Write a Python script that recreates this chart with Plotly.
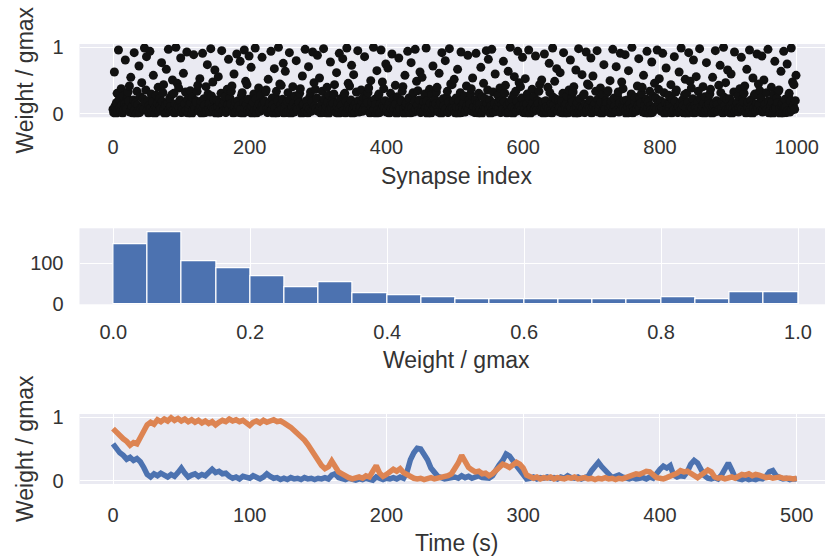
import plotly.graph_objects as go

# ---------------- data ----------------
# Top panel: weight of each of the 1000 synapses, in percent of gmax
weight_percent = [
    7, 2, 63, 12, 0, 17, 31, 5, 96, 22, 9, 4, 38, 14, 1, 27, 6, 15, 81, 10, 8, 24, 33, 19, 42,
    3, 55, 8, 11, 1, 21, 92, 6, 16, 0, 34, 13, 5, 72, 2, 26, 9, 47, 10, 23, 7, 99, 18, 36, 86,
    5, 20, 1, 13, 94, 9, 30, 3, 18, 58, 6, 0, 10, 28, 7, 16, 40, 4, 23, 12, 8, 77, 19, 32, 44,
    8, 0, 14, 67, 2, 17, 97, 6, 24, 11, 4, 29, 51, 5, 31, 1, 15, 100, 7, 46, 12, 39, 9, 21, 84,
    2, 10, 7, 61, 3, 15, 33, 5, 93, 22, 1, 9, 14, 35, 17, 0, 25, 6, 89, 11, 8, 20, 18, 34, 43,
    6, 4, 53, 12, 19, 0, 91, 9, 23, 13, 2, 41, 5, 74, 30, 8, 16, 3, 98, 27, 10, 48, 7, 21, 66,
    9, 0, 21, 11, 56, 1, 16, 7, 31, 95, 4, 13, 5, 19, 26, 2, 6, 37, 14, 82, 8, 24, 15, 34, 42,
    5, 1, 60, 10, 18, 3, 90, 8, 20, 12, 2, 79, 7, 28, 32, 0, 17, 96, 9, 49, 14, 44, 6, 22, 87,
    3, 6, 70, 12, 0, 17, 30, 5, 99, 23, 1, 8, 10, 39, 15, 4, 29, 9, 85, 13, 7, 20, 18, 33, 36,
    7, 2, 52, 11, 16, 4, 94, 6, 24, 14, 0, 68, 9, 25, 34, 1, 19, 100, 5, 45, 13, 43, 8, 22, 76,
    1, 8, 64, 14, 2, 19, 32, 5, 92, 21, 0, 6, 11, 41, 16, 3, 27, 9, 80, 10, 7, 23, 17, 31, 38,
    9, 0, 57, 13, 15, 3, 97, 5, 20, 10, 1, 71, 7, 26, 33, 4, 18, 93, 6, 47, 12, 37, 8, 24, 88,
    4, 5, 54, 10, 1, 15, 34, 7, 98, 22, 2, 8, 12, 40, 18, 0, 28, 6, 78, 14, 9, 21, 16, 30, 44,
    6, 2, 62, 11, 17, 0, 91, 8, 23, 13, 3, 83, 5, 29, 31, 1, 19, 99, 9, 46, 14, 42, 7, 21, 73,
    0, 7, 59, 12, 2, 16, 33, 9, 95, 20, 3, 5, 11, 36, 19, 4, 25, 8, 86, 13, 6, 24, 17, 32, 39,
    5, 1, 50, 10, 18, 4, 100, 7, 22, 14, 0, 65, 6, 27, 30, 2, 15, 96, 8, 48, 12, 38, 9, 20, 75,
    3, 6, 69, 13, 1, 17, 31, 8, 90, 23, 4, 9, 14, 43, 15, 0, 26, 5, 84, 10, 7, 21, 19, 34, 41,
    8, 0, 58, 12, 16, 2, 94, 6, 24, 11, 1, 77, 9, 28, 32, 3, 19, 97, 7, 49, 13, 35, 5, 21, 63,
    2, 5, 55, 11, 4, 18, 30, 9, 99, 20, 0, 7, 10, 37, 16, 1, 29, 6, 72, 14, 8, 22, 15, 33, 40,
    7, 3, 61, 14, 17, 0, 92, 5, 23, 12, 4, 80, 8, 25, 34, 2, 18, 98, 6, 45, 10, 44, 9, 20, 52,
    6, 1, 24, 10, 67, 0, 19, 9, 32, 93, 2, 13, 8, 17, 27, 3, 5, 42, 12, 88, 7, 22, 15, 30, 38,
    4, 54, 9, 11, 2, 21, 91, 7, 15, 1, 31, 14, 6, 70, 0, 26, 5, 46, 10, 23, 8, 95, 16, 36, 82,
    8, 21, 0, 12, 97, 6, 33, 3, 16, 60, 5, 4, 11, 28, 9, 18, 39, 2, 20, 14, 7, 79, 19, 31, 43,
    5, 1, 13, 64, 3, 17, 100, 8, 22, 10, 0, 29, 56, 7, 34, 4, 19, 94, 9, 47, 12, 41, 6, 24, 85,
    2, 14, 7, 53, 1, 15, 30, 5, 96, 23, 0, 9, 10, 37, 17, 4, 26, 8, 87, 11, 6, 20, 16, 34, 44,
    6, 3, 51, 12, 18, 0, 90, 9, 20, 11, 2, 40, 8, 76, 32, 5, 16, 1, 99, 25, 14, 49, 7, 22, 68,
    5, 4, 21, 10, 62, 2, 19, 6, 31, 92, 0, 13, 8, 15, 27, 1, 7, 36, 12, 81, 9, 24, 18, 33, 41,
    7, 0, 66, 11, 17, 1, 98, 5, 23, 10, 3, 59, 9, 28, 30, 2, 15, 93, 6, 45, 13, 43, 8, 21, 84,
    1, 9, 57, 12, 4, 16, 34, 6, 95, 22, 3, 7, 14, 39, 18, 0, 29, 5, 74, 10, 8, 20, 17, 32, 35,
    8, 2, 50, 13, 19, 0, 97, 7, 24, 12, 4, 71, 5, 26, 33, 3, 16, 91, 6, 48, 11, 38, 9, 20, 89,
    6, 0, 21, 11, 65, 2, 15, 8, 30, 100, 1, 10, 5, 19, 25, 4, 7, 42, 13, 83, 9, 23, 16, 31, 40,
    3, 58, 5, 14, 1, 22, 94, 9, 18, 0, 34, 12, 6, 78, 2, 27, 8, 46, 10, 24, 7, 96, 17, 37, 53,
    7, 20, 4, 10, 91, 5, 32, 0, 17, 69, 8, 3, 14, 28, 9, 15, 44, 1, 22, 12, 6, 86, 19, 33, 36,
    6, 2, 11, 63, 4, 16, 99, 7, 21, 13, 1, 29, 52, 9, 31, 0, 18, 92, 5, 49, 10, 39, 8, 23, 81,
    1, 13, 8, 56, 3, 18, 34, 9, 98, 24, 2, 6, 11, 41, 16, 0, 26, 5, 77, 12, 7, 21, 15, 30, 37,
    9, 0, 55, 10, 15, 3, 95, 5, 20, 14, 4, 43, 7, 73, 32, 8, 19, 1, 100, 25, 13, 47, 6, 22, 66,
    5, 2, 23, 12, 60, 0, 16, 8, 33, 93, 4, 10, 6, 17, 27, 3, 9, 38, 11, 85, 7, 22, 19, 31, 42,
    7, 1, 67, 11, 18, 2, 96, 6, 21, 12, 0, 54, 9, 28, 30, 4, 15, 90, 8, 45, 14, 35, 5, 24, 87,
    3, 6, 51, 14, 4, 15, 32, 7, 97, 20, 1, 5, 13, 40, 18, 0, 29, 8, 79, 10, 9, 24, 17, 34, 36,
    8, 0, 64, 12, 16, 1, 94, 9, 22, 10, 2, 75, 5, 26, 31, 3, 19, 99, 6, 48, 13, 44, 7, 20, 58,
]
synapse_index = list(range(len(weight_percent)))
synapse_weight = [v / 100 for v in weight_percent]

# Middle panel: histogram counts in 20 bins of width 0.05 on [0, 1]
bin_width = 0.05
bin_left = [i * bin_width for i in range(20)]
bin_counts = [146, 175, 105, 87, 67, 42, 53, 27, 23, 18,
              13, 13, 13, 13, 13, 13, 18, 13, 28, 28]

# Bottom panel: two example synapse weights over time (sampled every 2.5 s)
time_s = [i * 2.5 for i in range(201)]
weight_syn_a = [
    0.58, 0.49, 0.44, 0.40, 0.34, 0.37, 0.32, 0.35, 0.30, 0.21,
    0.10, 0.06, 0.11, 0.08, 0.12, 0.09, 0.06, 0.10, 0.07, 0.13,
    0.20, 0.12, 0.06, 0.09, 0.11, 0.07, 0.10, 0.08, 0.14, 0.18,
    0.13, 0.15, 0.11, 0.12, 0.07, 0.04, 0.06, 0.03, 0.07, 0.05,
    0.04, 0.08, 0.06, 0.03, 0.06, 0.11, 0.07, 0.04, 0.05, 0.02,
    0.04, 0.02, 0.05, 0.03, 0.04, 0.02, 0.05, 0.03, 0.04, 0.02,
    0.04, 0.03, 0.05, 0.03, 0.09, 0.11, 0.05, 0.03, 0.02, 0.04,
    0.02, 0.01, 0.03, 0.02, 0.04, 0.02, 0.01, 0.06, 0.03, 0.02,
    0.04, 0.03, 0.05, 0.03, 0.06, 0.04, 0.14, 0.33, 0.44, 0.51,
    0.50, 0.42, 0.33, 0.20, 0.12, 0.07, 0.05, 0.03, 0.04, 0.05,
    0.06, 0.04, 0.08, 0.05, 0.07, 0.04, 0.06, 0.08, 0.05, 0.04,
    0.04, 0.08, 0.18, 0.25, 0.32, 0.42, 0.39, 0.33, 0.24, 0.17,
    0.11, 0.03, 0.04, 0.06, 0.03, 0.05, 0.04, 0.06, 0.04, 0.05,
    0.03, 0.06, 0.04, 0.08, 0.05, 0.04, 0.06, 0.03, 0.05, 0.07,
    0.16, 0.24, 0.29, 0.22, 0.16, 0.08, 0.05, 0.07, 0.09, 0.06,
    0.04, 0.03, 0.05, 0.03, 0.04, 0.05, 0.03, 0.06, 0.04, 0.12,
    0.18, 0.23, 0.20, 0.24, 0.09, 0.06, 0.08, 0.07, 0.14, 0.26,
    0.32, 0.28, 0.17, 0.08, 0.04, 0.03, 0.05, 0.03, 0.09, 0.20,
    0.28, 0.17, 0.05, 0.03, 0.02, 0.04, 0.02, 0.03, 0.02, 0.04,
    0.03, 0.07, 0.14, 0.16, 0.08, 0.05, 0.03, 0.04, 0.02, 0.03,
    0.03,
]
weight_syn_b = [
    0.82, 0.76, 0.72, 0.66, 0.62, 0.56, 0.60, 0.58, 0.68, 0.80,
    0.88, 0.92, 0.89, 0.96, 0.93, 0.97, 0.94, 0.99, 0.95, 0.98,
    0.94, 0.97, 0.93, 0.96, 0.92, 0.95, 0.91, 0.94, 0.90, 0.93,
    0.88, 0.92, 0.95, 0.93, 0.97, 0.94, 0.96, 0.93, 0.95, 0.91,
    0.87, 0.92, 0.94, 0.91, 0.95, 0.92, 0.94, 0.96, 0.93, 0.94,
    0.91, 0.88, 0.84, 0.79, 0.74, 0.70, 0.64, 0.57, 0.48, 0.40,
    0.30, 0.24, 0.19, 0.22, 0.31, 0.22, 0.14, 0.11, 0.07, 0.05,
    0.03, 0.04, 0.06, 0.04, 0.08, 0.06, 0.14, 0.24, 0.12, 0.07,
    0.10, 0.14, 0.18, 0.15, 0.19, 0.13, 0.10, 0.06, 0.04, 0.03,
    0.04, 0.02, 0.03, 0.05, 0.03, 0.04, 0.06, 0.05, 0.08, 0.11,
    0.18, 0.28, 0.40, 0.30, 0.21, 0.17, 0.14, 0.15, 0.11, 0.12,
    0.08, 0.11, 0.17, 0.22, 0.26, 0.24, 0.21, 0.25, 0.29, 0.26,
    0.20, 0.09, 0.06, 0.04, 0.06, 0.03, 0.05, 0.04, 0.06, 0.03,
    0.05, 0.04, 0.03, 0.05, 0.04, 0.06, 0.03, 0.04, 0.05, 0.03,
    0.04, 0.02, 0.04, 0.03, 0.05, 0.03, 0.04, 0.02, 0.04, 0.03,
    0.05, 0.06, 0.09, 0.11, 0.10, 0.13, 0.15, 0.14, 0.08, 0.05,
    0.04, 0.03, 0.05, 0.07, 0.09, 0.12, 0.16, 0.14, 0.15, 0.12,
    0.08, 0.05, 0.09, 0.12, 0.17, 0.14, 0.06, 0.04, 0.05, 0.03,
    0.05, 0.06, 0.04, 0.08, 0.10, 0.09, 0.11, 0.08, 0.10, 0.09,
    0.07, 0.05, 0.06, 0.04, 0.05, 0.06, 0.04, 0.05, 0.04, 0.03,
    0.04,
]

synapse_ticks = [0, 200, 400, 600, 800, 1000]
hist_xticks = [0.0, 0.2, 0.4, 0.6, 0.8, 1.0]
hist_xtick_text = ["0.0", "0.2", "0.4", "0.6", "0.8", "1.0"]
hist_yticks = [0, 100]
time_ticks = [0, 100, 200, 300, 400, 500]
weight_ticks = [0, 1]

# ---------------- style ----------------
W, H = 825, 557
BG = "#EAEAF2"
TXT = "#333333"
BLUE = "#4C72B0"
ORANGE = "#DD8452"
FONT = "Liberation Sans, Arial, sans-serif"
TICK_SIZE = 20
TITLE_SIZE = 23

fig = go.Figure()

fig.add_trace(go.Scatter(
    x=synapse_index, y=synapse_weight, mode="markers",
    marker=dict(color="#111111", size=9, line=dict(width=0)),
    xaxis="x", yaxis="y", showlegend=False, hoverinfo="skip"))

bin_center = [b + bin_width / 2 for b in bin_left]
fig.add_trace(go.Bar(
    x=bin_center, y=bin_counts, width=bin_width,
    marker=dict(color=BLUE, line=dict(color="white", width=1.2)),
    xaxis="x2", yaxis="y2", showlegend=False, hoverinfo="skip"))

fig.add_trace(go.Scatter(
    x=time_s, y=weight_syn_a, mode="lines",
    line=dict(color=BLUE, width=5.5),
    xaxis="x3", yaxis="y3", showlegend=False, hoverinfo="skip"))
fig.add_trace(go.Scatter(
    x=time_s, y=weight_syn_b, mode="lines",
    line=dict(color=ORANGE, width=5.5),
    xaxis="x3", yaxis="y3", showlegend=False, hoverinfo="skip"))

x_left = 79.5 / W
common = dict(showline=False, zeroline=False, gridcolor="white", gridwidth=1.2,
              ticks="", automargin=False,
              tickfont=dict(family=FONT, size=TICK_SIZE, color=TXT))


def ypix(p):
    return (H - p) / H


fig.update_layout(
    width=W, height=H, autosize=False,
    margin=dict(l=0, r=0, t=0, b=0),
    paper_bgcolor="white", plot_bgcolor=BG,
    bargap=0,
    xaxis=dict(domain=[x_left, 1], range=[-49, 1041.4], tickvals=synapse_ticks,
               anchor="y", ticklabelstandoff=16, **common),
    yaxis=dict(domain=[ypix(117.3), ypix(44)], range=[-0.05, 1.05], tickvals=weight_ticks,
               anchor="x", ticklabelstandoff=15, **common),
    xaxis2=dict(domain=[x_left, 1], range=[-0.0494, 1.0394], tickvals=hist_xticks,
                ticktext=hist_xtick_text, anchor="y2", ticklabelstandoff=14, **common),
    yaxis2=dict(domain=[ypix(304.3), ypix(228.3)], range=[0, 184.8], tickvals=hist_yticks,
                anchor="x2", ticklabelstandoff=15, **common),
    xaxis3=dict(domain=[x_left, 1], range=[-24.5, 520.7], tickvals=time_ticks,
                anchor="y3", ticklabelstandoff=17, **common),
    yaxis3=dict(domain=[ypix(484), ypix(414)], range=[-0.05, 1.05], tickvals=weight_ticks,
                anchor="x3", ticklabelstandoff=15, **common),
)

title_font = dict(family=FONT, size=TITLE_SIZE, color=TXT)
annos = [
    dict(text="Synapse index", x=456 / W, y=ypix(175.5), textangle=0),
    dict(text="Weight / gmax", x=456 / W, y=ypix(359.5), textangle=0),
    dict(text="Time (s)", x=456.5 / W, y=ypix(543), textangle=0),
    dict(text="Weight / gmax", x=25 / W, y=ypix(80.5), textangle=-90),
    dict(text="Weight / gmax", x=25 / W, y=ypix(449), textangle=-90),
]
for a in annos:
    fig.add_annotation(xref="paper", yref="paper", showarrow=False,
                       xanchor="center", yanchor="middle", font=title_font, **a)

fig.write_html("out.html")
